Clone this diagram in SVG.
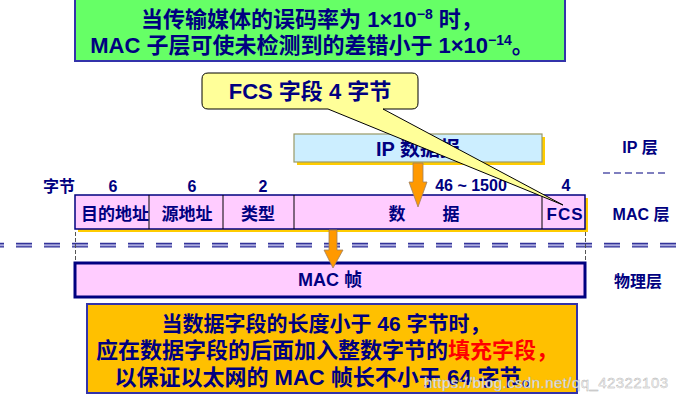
<svg xmlns="http://www.w3.org/2000/svg" width="677" height="401" viewBox="0 0 677 401">
<defs>
<style>
text{font-family:"Liberation Sans","Noto Sans CJK SC",sans-serif;font-weight:bold;fill:#000080;}
.c{text-anchor:middle;}
.big{font-size:22px;}
.cell{font-size:17px;}
.lbl{font-size:16px;}
.arrow{fill:#ff9900;stroke:#a08060;stroke-width:0.8;}
.shadow{fill:#ffcc00;}
.div{stroke:#000000;stroke-width:1;}
.vdash{stroke:#555555;stroke-width:1;stroke-dasharray:4 2;fill:none;}
</style>
</defs>
<rect width="677" height="401" fill="#ffffff"/>

<g id="ber-note">
<rect x="75" y="-2" width="490" height="63" fill="#66ff66" stroke="#3333aa" stroke-width="2"/>
<text class="c big" x="312" y="27">当传输媒体的误码率为 1×10<tspan font-size="14" dy="-8">−8</tspan><tspan dy="8"> 时，</tspan></text>
<text class="c big" x="312" y="53">MAC 子层可使未检测到的差错小于 1×10<tspan font-size="14" dy="-8">−14</tspan><tspan dy="8">。</tspan></text>
</g>

<g id="ip-datagram">
<rect class="shadow" x="297" y="137" width="248" height="28"/>
<rect x="294" y="134" width="248" height="28" fill="#cceeff" stroke="#999966" stroke-width="1.2"/>
<text class="c" x="418" y="156" font-size="20">IP 数据报</text>
</g>

<g id="byte-labels">
<text class="lbl" x="43" y="192">字节</text>
<text class="c lbl" x="113" y="192">6</text>
<text class="c lbl" x="192" y="192">6</text>
<text class="c lbl" x="263" y="192">2</text>
<text class="c lbl" x="471" y="191">46 ~ 1500</text>
<text class="c lbl" x="566" y="191">4</text>
</g>

<g id="mac-row">
<rect class="shadow" x="78" y="198" width="510" height="34"/>
<rect x="75" y="195" width="510" height="34" fill="#ffccff" stroke="#000080" stroke-width="1.5"/>
<line class="div" x1="149" y1="195" x2="149" y2="229"/>
<line class="div" x1="223" y1="195" x2="223" y2="229"/>
<line class="div" x1="294" y1="195" x2="294" y2="229"/>
<line class="div" x1="542" y1="195" x2="542" y2="229"/>
<text class="c cell" x="115" y="220">目的地址</text>
<text class="c cell" x="187" y="220">源地址</text>
<text class="c cell" x="258" y="220">类型</text>
<text class="c cell" x="397" y="220">数</text>
<text class="c cell" x="451" y="220">据</text>
<text class="c cell" x="565" y="220" letter-spacing="1">FCS</text>
</g>

<g id="layer-labels">
<text class="c lbl" x="640" y="153">IP 层</text>
<line x1="603" y1="173" x2="667" y2="173" stroke="#000080" stroke-width="1.2" stroke-dasharray="7 4"/>
<text class="c lbl" x="641" y="220">MAC 层</text>
<text class="c lbl" x="638" y="287">物理层</text>
</g>

<g id="separator">
<line x1="0" y1="245" x2="677" y2="245" stroke="#aaaadd" stroke-width="4" stroke-dasharray="16 12" stroke-dashoffset="12"/>
<line x1="0" y1="243.5" x2="677" y2="243.5" stroke="#333399" stroke-width="1.3" stroke-dasharray="16 12" stroke-dashoffset="12"/>
<line x1="0" y1="246.8" x2="677" y2="246.8" stroke="#333399" stroke-width="1.3" stroke-dasharray="16 12" stroke-dashoffset="12"/>
</g>

<g id="mac-frame">
<rect x="75" y="263" width="510" height="34" fill="#ffccff" stroke="#000080" stroke-width="3"/>
<text class="c" x="330" y="286" font-size="18">MAC 帧</text>
</g>

<g id="connectors">
<line class="vdash" x1="75.5" y1="232" x2="75.5" y2="262"/>
<line class="vdash" x1="585.5" y1="232" x2="585.5" y2="262"/>
<polygon class="arrow" points="413,163 423,163 423,182 427,182 418,207 409,182 413,182"/>
<polygon class="arrow" points="329,230 337,230 337,250 343,250 333,268 324,250 329,250"/>
</g>

<g id="fcs-callout">
<path d="M208,73 H412 Q418,73 418,79 V103 Q418,109 412,109 H383 L563,205 L328,109 H208 Q202,109 202,103 V79 Q202,73 208,73 Z" fill="#ffff99" stroke="#000000" stroke-width="1"/>
<text class="c" x="310" y="99" font-size="22">FCS 字段 4 字节</text>
</g>

<g id="padding-note">
<rect x="87" y="304" width="490" height="89" fill="#ffc000" stroke="#3333aa" stroke-width="2"/>
<text class="c" x="326" y="331" font-size="21">当数据字段的长度小于 46 字节时，</text>
<text class="c" x="327" y="358" font-size="22">应在数据字段的后面加入整数字节的<tspan fill="#ff0000">填充字段，</tspan></text>
<text class="c" x="329" y="385" font-size="22">以保证以太网的 MAC 帧长不小于 64 字节。</text>
</g>

<text x="424" y="388" font-size="15" textLength="244" style="font-weight:normal;fill:#f4f4f4;stroke:#b0b0b0;stroke-width:0.4;">https://blog.csdn.net/qq_42322103</text>
</svg>
